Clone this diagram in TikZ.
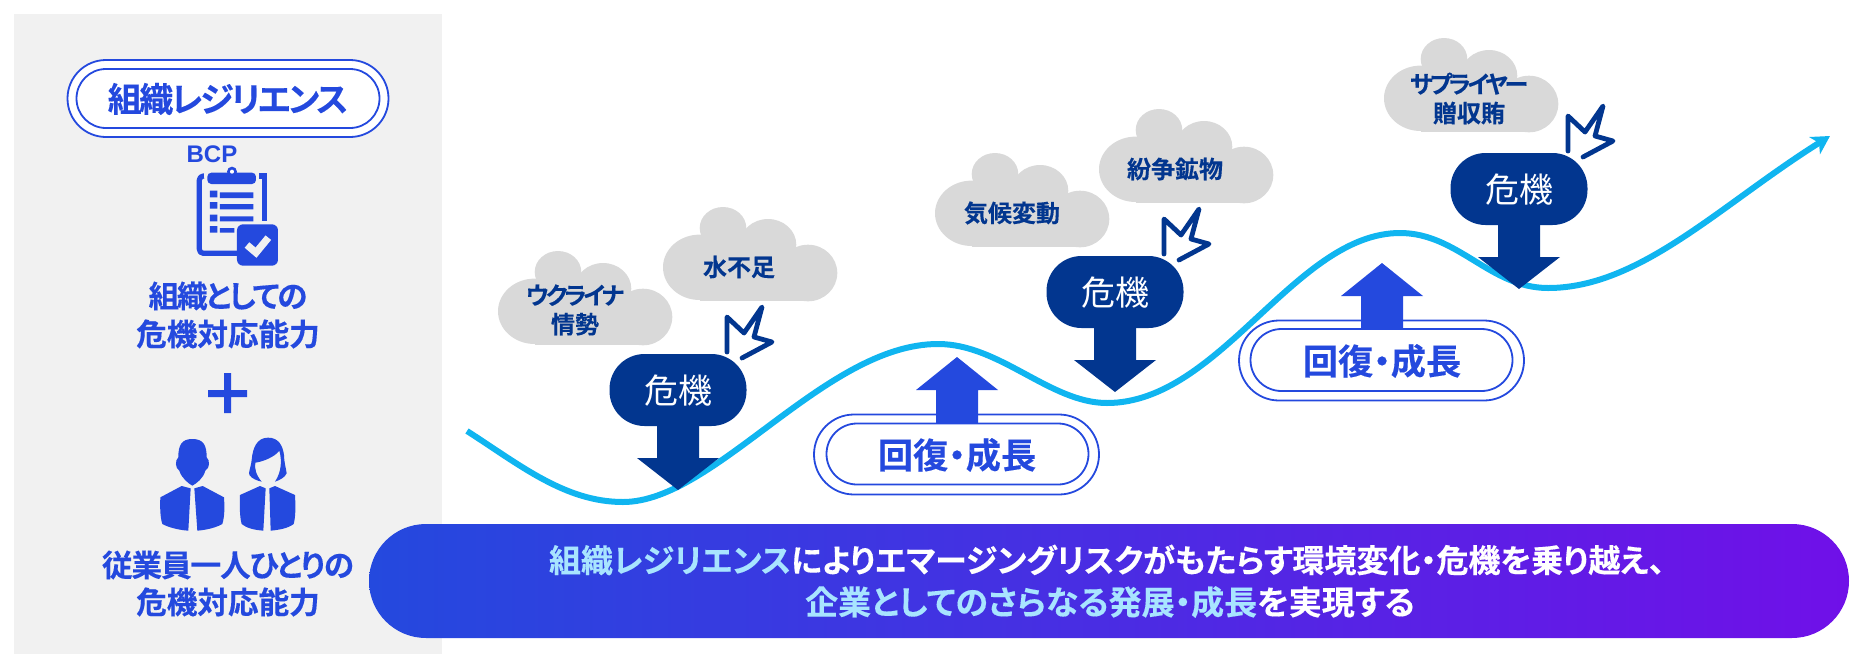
\documentclass[tikz,border=0pt]{standalone}
\usepackage{fontspec}
\usetikzlibrary{arrows.meta,shapes.misc}
\setmainfont{Noto Sans CJK JP}[RawFeature=+palt,BoldFont={Noto Sans CJK JP Bold},BoldFeatures={FakeBold=0.25}]
\newfontfamily\latinbold{Liberation Sans}[Scale=1]
\definecolor{royal}{HTML}{2449DE}
\definecolor{navy}{HTML}{02368F}
\definecolor{sky}{HTML}{10B5F0}
\definecolor{panelgrey}{HTML}{F1F1F1}
\definecolor{cloudgrey}{HTML}{D9D9D9}
\definecolor{violet}{HTML}{7010E8}
\definecolor{pale}{HTML}{A8E4FF}
\newcommand{\tight}[1]{\addfontfeature{LetterSpace=#1}}
\tikzset{
  x=0.5pt,y=-0.5pt,
  label/.style={inner sep=0pt,align=center,font=\bfseries\fontsize{#1}{#1}\selectfont},
  bluelabel/.style={label=15.3,text=royal},
  cloudlabel/.style={label=12,text=navy},
  ring/.style={draw=royal,fill=white,rounded rectangle,inner sep=0pt},
  crisis/.pic={
    \fill[navy,rounded corners=17.5pt] (-68.5,0) rectangle (68.5,72);
    \fill[navy] (-21,60) -- (21,60) -- (21,104) -- (41,104) -- (0,136)
      -- (-41,104) -- (-21,104) -- cycle;
    \draw[navy,line width=2.4pt,line cap=round,line join=round]
      (49,-2) -- (49,-37) -- (66,-21) -- (84,-47) -- (76,-17) -- (94,-12) -- (64,4);
    \node[text=white,inner sep=0pt,font=\fontsize{17}{17}\selectfont] at (0,37) {危機};
  },
  riskcloud/.pic={
    \fill[cloudgrey] (36.7,60.3) ellipse [x radius=18.35pt,y radius=16.35pt];
    \fill[cloudgrey] (145,66) ellipse [x radius=14.65pt,y radius=14.15pt];
    \fill[cloudgrey] (36.7,40) rectangle (145,93.8);
    \fill[cloudgrey] (60,21) ellipse [x radius=11.65pt,y radius=10.5pt];
    \fill[cloudgrey] (105,37.7) ellipse [x radius=14.15pt,y radius=12.85pt];
    \fill[cloudgrey] (38,30) rectangle (110,45);
  },
  rise/.pic={
    \fill[royal] (-21,66) -- (-21,33) -- (-41,33) -- (0,0) -- (41,33) -- (21,33)
      -- (21,66) -- cycle;
  }
}
\begin{document}
\begin{tikzpicture}
\useasboundingbox (0,0) rectangle (1869,665);
% left panel
\fill[panelgrey] (14,14) rectangle (442,654);
\node[ring,line width=0.9pt,minimum width=160.5pt,minimum height=38.5pt] (ringouter) at (228,98.5) {};
\node[ring,line width=0.9pt,minimum width=151.5pt,minimum height=29.5pt] (ringinner) at (228,98.5) {};
\node[label=17,text=royal] (title) at (228,99) {\tight{-7}組織レジリエンス};
\node[inner sep=0pt,text=royal,font=\latinbold\bfseries\fontsize{12}{12}\selectfont] (bcp) at (212,154) {BCP};
% clipboard icon
\begin{scope}[scale=1/3]
  \draw[royal,line width=2.6pt,line join=round,rounded corners=2pt]
    (612,528) -- (598,528) -- (598,760) -- (720,760);
  \draw[royal,line width=2.6pt] (778,528) -- (794,528) -- (794,664);
  \fill[royal,rounded corners=2pt] (622,552) -- (622,518) -- (768,518) -- (768,552) -- cycle;
  \fill[royal] (696,515) circle [radius=7.5pt];
  \fill[white] (696,515) circle [radius=3pt];
  \fill[royal] (630,572) rectangle (652,592) (660,577) rectangle (760,594);
  \fill[royal] (630,606) rectangle (652,626) (660,612) rectangle (760,628);
  \fill[royal] (630,644) rectangle (652,664) (660,649) rectangle (760,664);
  \fill[royal] (630,678) rectangle (652,698) (660,684) rectangle (703,698);
  \fill[royal,rounded corners=3pt] (711,673) rectangle (834,797);
  \draw[panelgrey,line width=3.6pt,line join=miter] (741,735) -- (768,758) -- (805,713);
\end{scope}
\node[bluelabel] (orgline1) at (228,296) {\tight{-7}組織としての};
\node[bluelabel] (orgline2) at (228,334) {危機対応能力};
% plus sign
\fill[royal] (224,373) rectangle (231,413) (208,390) rectangle (247,397);
% man and woman icons
\begin{scope}[shift={(0,340)},scale=1/3]
  \fill[royal] (577,297) .. controls (545,297) and (535,315) .. (535,352)
    .. controls (525,360) and (525,385) .. (538,392)
    .. controls (545,415) and (565,430) .. (577,437)
    .. controls (590,430) and (610,415) .. (616,392)
    .. controls (630,385) and (630,360) .. (620,352)
    .. controls (620,315) and (610,297) .. (577,297) -- cycle;
  \fill[royal] (545,438) -- (572,445) -- (565,572) .. controls (535,570) and (505,562) .. (487,552)
    .. controls (480,530) and (480,500) .. (481,472) -- cycle;
  \fill[royal] (608,438) -- (583,445) -- (592,572) .. controls (620,570) and (650,562) .. (667,552)
    .. controls (674,530) and (674,500) .. (672,472) -- cycle;
  \fill[royal] (804,293) .. controls (770,293) and (758,325) .. (755,360)
    .. controls (752,385) and (745,395) .. (748,405)
    .. controls (755,415) and (770,422) .. (785,425)
    .. controls (768,405) and (763,385) .. (766,368)
    .. controls (790,365) and (825,350) .. (838,332)
    .. controls (846,360) and (845,395) .. (825,425)
    .. controls (840,420) and (855,412) .. (860,400)
    .. controls (858,385) and (852,365) .. (852,345)
    .. controls (848,315) and (835,293) .. (804,293) -- cycle;
  \fill[royal] (780,438) -- (797,445) -- (790,572) .. controls (765,570) and (740,565) .. (725,552)
    .. controls (719,530) and (719,500) .. (720,465) -- cycle;
  \fill[royal] (825,438) -- (808,445) -- (812,572) .. controls (835,570) and (865,565) .. (881,552)
    .. controls (887,530) and (887,500) .. (885,465) -- cycle;
\end{scope}
\node[bluelabel] (staffline1) at (228,565) {\tight{-3.5}従業員一人ひとりの};
\node[bluelabel] (staffline2) at (228,602) {危機対応能力};
% risk clouds
\pic at (498,251) {riskcloud};
\pic at (663,207) {riskcloud};
\pic at (935,153) {riskcloud};
\pic at (1099,109) {riskcloud};
\pic at (1384,38) {riskcloud};
\node[cloudlabel,font=\bfseries\fontsize{12}{14.5}\selectfont] (ukraine) at (575,310) {\tight{-12}ウクライナ\\情勢};
\node[cloudlabel] (water) at (739,267) {水不足};
\node[cloudlabel] (climate) at (1012,213) {気候変動};
\node[cloudlabel] (minerals) at (1175,169) {紛争鉱物};
\node[cloudlabel,font=\bfseries\fontsize{12}{14.5}\selectfont] (bribery) at (1469,98.5) {\tight{-13}サプライヤー\\贈収賄};
% growth curve
\coordinate (curvestart) at (467,431);
\coordinate (curveend) at (1830,136);
\draw[sky,line width=3pt,-{Stealth[length=9pt,width=10pt,inset=2.5pt]}] (curvestart)
  .. controls (520,465) and (565,502) .. (623,502)
  .. controls (715,502) and (825,344) .. (938,344)
  .. controls (1000,344) and (1050,403) .. (1107,403)
  .. controls (1220,403) and (1295,233) .. (1400,233)
  .. controls (1458,233) and (1490,288) .. (1548,288)
  .. controls (1640,288) and (1720,205) .. (curveend);
% crises
\pic at (678,354) {crisis};
\pic at (1115,256) {crisis};
\pic at (1519,153) {crisis};
% recoveries
\node[ring,line width=0.9pt,fill=none,minimum width=142.5pt,minimum height=40pt] (recoverA) at (956.5,454.5) {};
\pic at (957,357) {rise};
\node[ring,line width=0.9pt,fill=white,minimum width=131pt,minimum height=30.5pt] (recoverAin) at (957.5,454) {};
\node[label=17.6,text=royal] (recoverAtext) at (957,455) {回復・成長};
\node[ring,line width=0.9pt,fill=none,minimum width=142.5pt,minimum height=40pt] (recoverB) at (1381.5,360.5) {};
\pic at (1382,263) {rise};
\node[ring,line width=0.9pt,fill=white,minimum width=131pt,minimum height=31pt] (recoverBin) at (1381.5,360) {};
\node[label=17.6,text=royal] (recoverBtext) at (1382,361) {回復・成長};
% message bar
\node[rounded rectangle,left color=royal,right color=violet,inner sep=0pt,minimum width=740pt,minimum height=57pt] (bar) at (1109,581) {};
\node[label=16,text=white] (msgA) at (1107,560) {\textcolor{pale}{組織レジリエンス}によりエマージングリスクがもたらす環境変化・危機を乗り越え、};
\node[label=16.5,text=white] (msgB) at (1110,602) {\textcolor{pale}{企業としてのさらなる発展・成長}を実現する};
\end{tikzpicture}
\end{document}
